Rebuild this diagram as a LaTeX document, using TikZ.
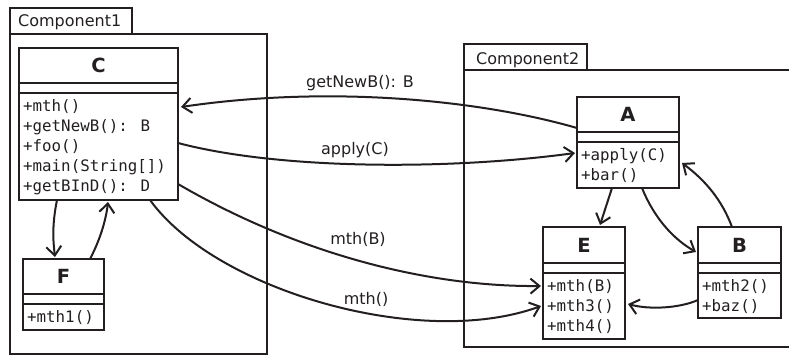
\documentclass[tikz,border=0pt]{standalone}
\usepackage{fontspec}
\setmainfont{DejaVu Sans}
\newfontfamily\monofont{DejaVu Sans Mono}
\usetikzlibrary{arrows.meta,calc}
\definecolor{ink}{RGB}{35,31,32}
\begin{document}
\begin{tikzpicture}[x=1pt,y=-1pt,
  box/.style={draw=ink,line width=2.6pt,inner sep=0pt,outer sep=0pt,anchor=north west,rectangle},
  frame/.style={draw=ink,line width=2.3pt,inner sep=0pt,outer sep=0pt,anchor=north west,rectangle},
  sep/.style={draw=ink,line width=2.6pt},
  cname/.style={font=\fontsize{19.5}{22}\selectfont\bfseries,text=ink,inner sep=0pt},
  meth/.style={font=\monofont\fontsize{15.8}{20}\selectfont,text=ink,inner sep=0pt,anchor=base west},
  lbl/.style={font=\fontsize{16}{20}\selectfont,text=ink,inner sep=0pt,anchor=base},
  tablbl/.style={font=\fontsize{16}{20}\selectfont,text=ink,inner sep=0pt,anchor=base west},
  conn/.style={draw=ink,line width=2pt,-{Straight Barb[length=9pt,width=15pt,line width=2pt]}},
]
\useasboundingbox (0,0) rectangle (789,361);

% components
\node[frame,minimum width=122pt,minimum height=26pt] (tab1) at (10,8) {};
\node[frame,minimum width=257pt,minimum height=320pt] (comp1) at (10,34) {};
\node[tablbl] (tab1t) at (18,27) {Component1};
\node[frame,minimum width=123pt,minimum height=26pt] (tab2) at (464,44) {};
\node[frame,minimum width=340pt,minimum height=277pt] (comp2) at (464,70) {};
\node[tablbl] (tab2t) at (476,64) {Component2};

% class C
\node[box,minimum width=159pt,minimum height=152pt] (C) at (19,48) {};
\draw[sep] ($(C.north west)+(0,35)$) -- ($(C.north east)+(0,35)$);
\draw[sep] ($(C.north west)+(0,45)$) -- ($(C.north east)+(0,45)$);
\node[cname] (Ct) at ($(C.north)+(0,17.5)$) {C};
\node[meth] (Cm1) at ($(C.north west)+(4,63)$) {+mth()};
\node[meth] (Cm2) at ($(C.north west)+(4,83)$) {+getNewB(): B};
\node[meth] (Cm3) at ($(C.north west)+(4,103)$) {+foo()};
\node[meth] (Cm4) at ($(C.north west)+(4,123)$) {+main(String[])};
\node[meth] (Cm5) at ($(C.north west)+(4,143)$) {+getBInD(): D};

% class F
\node[box,minimum width=81pt,minimum height=71pt] (F) at (23,259) {};
\draw[sep] ($(F.north west)+(0,35)$) -- ($(F.north east)+(0,35)$);
\draw[sep] ($(F.north west)+(0,45)$) -- ($(F.north east)+(0,45)$);
\node[cname] (Ft) at ($(F.north)+(0,17.5)$) {F};
\node[meth] (Fm1) at ($(F.north west)+(4,63)$) {+mth1()};

% class A
\node[box,minimum width=102pt,minimum height=91pt] (A) at (577,97) {};
\draw[sep] ($(A.north west)+(0,35)$) -- ($(A.north east)+(0,35)$);
\draw[sep] ($(A.north west)+(0,45)$) -- ($(A.north east)+(0,45)$);
\node[cname] (At) at ($(A.north)+(0,17.5)$) {A};
\node[meth] (Am1) at ($(A.north west)+(4,63)$) {+apply(C)};
\node[meth] (Am2) at ($(A.north west)+(4,83)$) {+bar()};

% class E
\node[box,minimum width=82pt,minimum height=112pt] (E) at (543,227) {};
\draw[sep] ($(E.north west)+(0,36)$) -- ($(E.north east)+(0,36)$);
\draw[sep] ($(E.north west)+(0,46)$) -- ($(E.north east)+(0,46)$);
\node[cname] (Et) at ($(E.north)+(0,18)$) {E};
\node[meth] (Em1) at ($(E.north west)+(4,64)$) {+mth(B)};
\node[meth] (Em2) at ($(E.north west)+(4,84)$) {+mth3()};
\node[meth] (Em3) at ($(E.north west)+(4,104)$) {+mth4()};

% class B
\node[box,minimum width=83pt,minimum height=91pt] (B) at (698,227) {};
\draw[sep] ($(B.north west)+(0,36)$) -- ($(B.north east)+(0,36)$);
\draw[sep] ($(B.north west)+(0,46)$) -- ($(B.north east)+(0,46)$);
\node[cname] (Bt) at ($(B.north)+(0,18)$) {B};
\node[meth] (Bm1) at ($(B.north west)+(4,64)$) {+mth2()};
\node[meth] (Bm2) at ($(B.north west)+(4,84)$) {+baz()};

% connectors
\draw[conn] ($(A.north west)+(0,31)$) .. controls (480,100) and (330,85) .. ($(C.north east)+(3,59)$);
\draw[conn] ($(C.north east)+(0,95)$) .. controls (280,170) and (450,170) .. ($(A.north west)+(-2,56)$);
\draw[conn] ($(C.north east)+(0,136)$) .. controls (300,255) and (430,287) .. ($(E.north west)+(-2,59)$);
\draw[conn] ($(C.south east)+(-28,0)$) .. controls (215,290) and (420,350) .. ($(E.north west)+(-2,79)$);
\draw[conn] ($(C.south west)+(38,0)$) .. controls (52,225) and (53,240) .. ($(F.north west)+(32,-2)$);
\draw[conn] ($(F.north west)+(67,0)$) .. controls (100,240) and (106,220) .. ($(C.south west)+(89,2)$);
\draw[conn] ($(A.south west)+(35,0)$) -- ($(E.north west)+(57,-2)$);
\draw[conn] ($(A.south west)+(65,0)$) .. controls (655,220) and (675,240) .. ($(B.north west)+(-2,25)$);
\draw[conn] ($(B.north west)+(34,0)$) .. controls (722,200) and (705,180) .. ($(A.north east)+(3,66)$);
\draw[conn] ($(B.north west)+(0,73)$) .. controls (680,308) and (650,310) .. ($(E.north east)+(3,77)$);

% labels
\node[lbl] (l1) at (360,87) {getNewB(): B};
\node[lbl] (l2) at (355,154) {apply(C)};
\node[lbl] (l3) at (358,244) {mth(B)};
\node[lbl] (l4) at (366,304) {mth()};
\end{tikzpicture}
\end{document}
